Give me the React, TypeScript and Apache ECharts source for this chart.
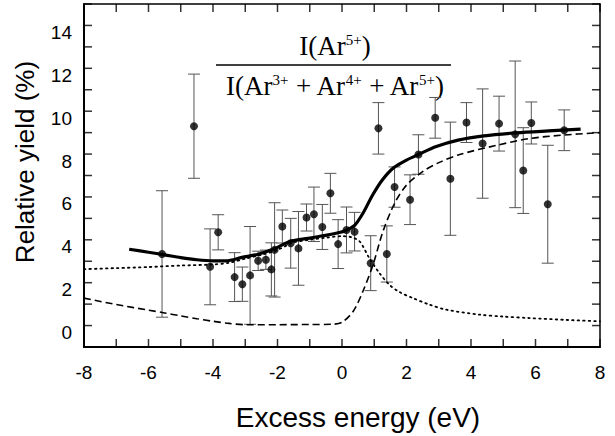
import React, { useEffect, useRef } from 'react';
import * as echarts from 'echarts';

// Measured points: excess energy (eV), relative yield (%), error (+/-)
const pointX = [-5.58, -4.59, -4.09, -3.84, -3.33, -3.09, -2.85, -2.6, -2.36, -2.19, -2.09, -1.85, -1.59, -1.35, -1.1, -0.87, -0.61, -0.36, -0.12, 0.14, 0.39, 0.89, 1.13, 1.39, 1.63, 2.11, 2.37, 2.89, 3.36, 3.86, 4.36, 4.87, 5.37, 5.62, 5.87, 6.38, 6.89];
const pointY = [3.34, 9.3, 2.74, 4.35, 2.26, 1.93, 2.34, 3.02, 3.07, 2.62, 3.53, 4.62, 3.84, 3.6, 5.04, 5.19, 4.6, 6.17, 3.8, 4.46, 4.38, 2.91, 9.2, 3.34, 6.46, 5.87, 7.98, 9.69, 6.85, 9.47, 8.49, 9.42, 8.92, 7.23, 9.45, 5.66, 9.11];
const pointErr = [2.95, 2.43, 1.77, 0.82, 1.14, 0.8, 2.28, 0.45, 0.45, 1.24, 2.2, 0.77, 1.16, 1.72, 0.63, 1.27, 1.05, 0.93, 1.14, 1.07, 0.9, 1.28, 1.2, 1.31, 0.94, 1.16, 0.92, 0.95, 2.64, 0.93, 2.55, 1.28, 3.42, 2.0, 0.98, 2.75, 0.95];

// Total fit (solid)
const solidX = [-6.6, -6.0, -5.5, -5.0, -4.5, -4.0, -3.6, -3.1, -2.6, -2.1, -1.8, -1.55, -1.05, -0.55, -0.05, 0.15, 0.4, 0.65, 0.95, 1.25, 1.6, 2.0, 2.4, 2.9, 3.6, 4.4, 5.4, 6.4, 7.4];
const solidY = [3.56, 3.42, 3.3, 3.17, 3.07, 3.02, 3.02, 3.18, 3.33, 3.58, 3.8, 3.95, 4.07, 4.2, 4.35, 4.46, 4.69, 5.24, 6.09, 6.79, 7.36, 7.72, 8.0, 8.34, 8.65, 8.85, 8.99, 9.08, 9.16];

// Threshold component (dashed)
const dashedX = [-8, -7, -6, -5.5, -5, -4.5, -4, -3.5, -3, -2, -1, -0.3, 0, 0.35, 0.65, 0.96, 1.27, 1.63, 2.0, 2.5, 3.0, 3.65, 4.8, 5.8, 6.8, 8];
const dashedY = [1.28, 0.98, 0.72, 0.59, 0.45, 0.32, 0.2, 0.1, 0.04, 0.04, 0.05, 0.06, 0.15, 0.67, 1.6, 2.83, 4.39, 5.7, 6.55, 7.18, 7.6, 7.98, 8.41, 8.72, 8.88, 9.0];

// Background component (dotted)
const dottedX = [-8, -7, -6, -5, -4, -3.5, -3, -2.5, -2, -1.5, -1, -0.5, 0, 0.3, 0.55, 0.85, 1.16, 1.47, 1.8, 2.2, 2.7, 3.23, 4.26, 5.0, 5.81, 7.0, 8];
const dottedY = [2.63, 2.68, 2.73, 2.8, 2.85, 2.93, 3.12, 3.3, 3.53, 3.88, 4.0, 4.1, 4.17, 4.12, 3.92, 3.14, 2.45, 1.9, 1.55, 1.28, 0.98, 0.74, 0.51, 0.42, 0.35, 0.26, 0.2];

// Axis ranges and tick values
const xMin = -8;
const xMax = 8;
const yMin = -1;
const yMax = 15;
const xTickValues = [-8, -7, -6, -5, -4, -3, -2, -1, 0, 1, 2, 3, 4, 5, 6, 7, 8];
const yTickValues = [-1, 0, 1, 2, 3, 4, 5, 6, 7, 8, 9, 10, 11, 12, 13, 14, 15];
const xLabelStep = 2;
const yLabelStep = 2;

const zip = (xs: number[], ys: number[]) => xs.map((x, i) => [x, ys[i]]);

export default function App() {
  const ref = useRef<HTMLDivElement>(null);
  useEffect(() => {
    const chart = echarts.init(ref.current as HTMLDivElement, null, { renderer: 'svg' });
    const axisFont = 'Liberation Sans, Arial, sans-serif';
    const serif = 'Liberation Serif, Times New Roman, serif';
    const tickLen = 8;
    const tickW = 1.5;
    const tickSeries = (data: number[][], size: number[], offset: number[]) => ({
      type: 'scatter', data, symbol: 'rect', symbolSize: size, symbolOffset: offset,
      itemStyle: { color: '#000' }, clip: false, silent: true, z: 7,
    });
    chart.setOption({
      animation: false,
      grid: { left: 84, right: 15, top: 4, bottom: 89 },
      xAxis: [
        {
          type: 'value', min: xMin, max: xMax, interval: 1, position: 'bottom',
          axisLine: { show: true, onZero: false, lineStyle: { color: '#000', width: 2 } },
          axisTick: { show: false },
          axisLabel: {
            formatter: (v: number) => (Math.abs(v % xLabelStep) === 0 ? String(v) : ''),
            fontSize: 19, color: '#000', fontFamily: axisFont, margin: 16,
          },
          splitLine: { show: false },
        },
        {
          type: 'value', min: xMin, max: xMax, interval: 1, position: 'top',
          axisLine: { show: true, onZero: false, lineStyle: { color: '#000', width: 1.5 } },
          axisTick: { show: false },
          axisLabel: { show: false },
          splitLine: { show: false },
        },
      ],
      yAxis: [
        {
          type: 'value', min: yMin, max: yMax, interval: 1, position: 'left',
          axisLine: { show: true, onZero: false, lineStyle: { color: '#000', width: 2 } },
          axisTick: { show: false },
          axisLabel: {
            formatter: (v: number) => (v >= 0 && v <= 14 && v % yLabelStep === 0 ? String(v) : ''),
            fontSize: 19, color: '#000', fontFamily: axisFont, margin: 12,
            verticalAlign: 'top', lineHeight: 14,
          },
          splitLine: { show: false },
        },
        {
          type: 'value', min: yMin, max: yMax, interval: 1, position: 'right',
          axisLine: { show: true, onZero: false, lineStyle: { color: '#000', width: 1.5 } },
          axisTick: { show: false },
          axisLabel: { show: false },
          splitLine: { show: false },
        },
      ],
      series: [
        // inward ticks on all four sides, drawn as thin rectangles through the axes' scales
        tickSeries(xTickValues.map((v) => [v, yMin]), [tickW, tickLen], [0, -tickLen / 2]),
        tickSeries(xTickValues.map((v) => [v, yMax]), [tickW, tickLen], [0, tickLen / 2]),
        tickSeries(yTickValues.map((v) => [xMin, v]), [tickLen, tickW], [tickLen / 2, 0]),
        tickSeries(yTickValues.map((v) => [xMax, v]), [tickLen, tickW], [-tickLen / 2, 0]),
        {
          type: 'custom',
          xAxisIndex: 0, yAxisIndex: 0,
          data: pointX.map((x, i) => [x, pointY[i] - pointErr[i], pointY[i] + pointErr[i]]),
          encode: { x: 0, y: [1, 2] },
          z: 1,
          renderItem: (params: any, api: any) => {
            const lo = api.coord([api.value(0), api.value(1)]);
            const hi = api.coord([api.value(0), api.value(2)]);
            const w = 6;
            const style = { stroke: '#555', lineWidth: 1 };
            return {
              type: 'group',
              children: [
                { type: 'line', shape: { x1: lo[0], y1: lo[1], x2: hi[0], y2: hi[1] }, style },
                { type: 'line', shape: { x1: lo[0] - w, y1: lo[1], x2: lo[0] + w, y2: lo[1] }, style },
                { type: 'line', shape: { x1: hi[0] - w, y1: hi[1], x2: hi[0] + w, y2: hi[1] }, style },
              ],
            };
          },
        },
        {
          type: 'line', data: zip(dottedX, dottedY), showSymbol: false, smooth: 0.3,
          lineStyle: { color: '#000', width: 1.8, type: [1.5, 4], cap: 'round' }, z: 2,
        },
        {
          type: 'line', data: zip(dashedX, dashedY), showSymbol: false, smooth: 0.3,
          lineStyle: { color: '#000', width: 1.6, type: [7, 4] }, z: 3,
        },
        {
          type: 'line', data: zip(solidX, solidY), showSymbol: false, smooth: 0.3,
          lineStyle: { color: '#000', width: 3.2 }, z: 4,
        },
        {
          type: 'scatter', data: zip(pointX, pointY), symbol: 'circle', symbolSize: 8,
          itemStyle: { color: '#000' }, z: 5,
        },
      ],
      graphic: [
        {
          type: 'text', x: 358, y: 417,
          style: {
            text: 'Excess energy (eV)', fill: '#000', fontSize: 28, fontFamily: axisFont,
            align: 'center', verticalAlign: 'middle',
          },
        },
        {
          type: 'text', x: 25, y: 162, rotation: Math.PI / 2,
          style: {
            text: 'Relative yield (%)', fill: '#000', fontSize: 26, fontFamily: axisFont,
            align: 'center', verticalAlign: 'middle',
          },
        },
        {
          type: 'text', x: 335, y: 46,
          style: {
            text: '{a|I(Ar}{b|5+}{a|)}',
            align: 'center', verticalAlign: 'middle',
            rich: {
              a: { fontSize: 27, fontFamily: serif, fill: '#000' },
              b: { fontSize: 15, fontFamily: serif, fill: '#000', verticalAlign: 'top' },
            },
          },
        },
        {
          type: 'line', shape: { x1: 216, y1: 65, x2: 451, y2: 65 },
          style: { stroke: '#000', lineWidth: 1.5 },
        },
        {
          type: 'text', x: 335, y: 86,
          style: {
            text: '{a|I(Ar}{b|3+}{a| + Ar}{b|4+}{a| + Ar}{b|5+}{a|)}',
            align: 'center', verticalAlign: 'middle',
            rich: {
              a: { fontSize: 27, fontFamily: serif, fill: '#000' },
              b: { fontSize: 15, fontFamily: serif, fill: '#000', verticalAlign: 'top' },
            },
          },
        },
      ],
    });
    return () => chart.dispose();
  }, []);
  return <div ref={ref} style={{ position: 'absolute', left: 0, top: 0, width: 615, height: 436 }} />;
}
